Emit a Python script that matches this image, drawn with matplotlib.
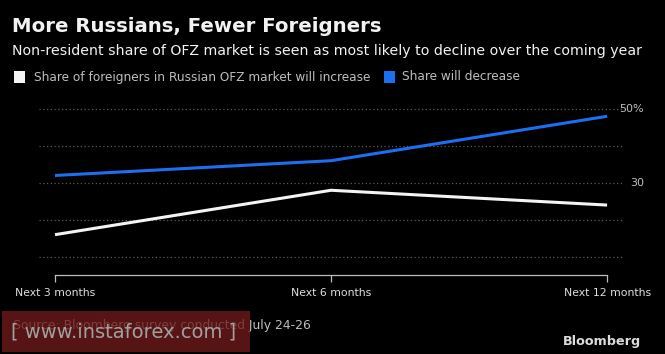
import matplotlib

matplotlib.use("Agg")
import matplotlib.pyplot as plt
import matplotlib.patches as patches
import matplotlib.transforms as mtransforms

# ---- data ----
periods = ["Next 3 months", "Next 6 months", "Next 12 months"]
increase = [16, 28, 24]
decrease = [32, 36, 48]
series_names = ["Share of foreigners in Russian OFZ market will increase",
                "Share will decrease"]
y_ticks = [10, 20, 30, 40, 50]
y_labels = ["", "", "30", "", "50%"]

# ---- style ----
W_PX, H_PX = 665, 354
DPI = 100
BG = "#000000"
FG = "#f2f2f2"
MUTED = "#bdbdbd"
GRID = "#5a5a5a"
BLUE = "#1d6ff2"
WHITE = "#f4f4f4"

fig = plt.figure(figsize=(W_PX / DPI, H_PX / DPI), dpi=DPI, facecolor=BG)

# axes box in pixel coords: x 39..622, y(top) 100..275
ax = fig.add_axes([39 / W_PX, (H_PX - 275) / H_PX, 583 / W_PX, 175 / H_PX])
ax.set_facecolor(BG)
x = list(range(len(periods)))
ax.plot(x, increase, color=WHITE, lw=2.2, solid_capstyle="butt", zorder=3)
ax.plot(x, decrease, color=BLUE, lw=2.2, solid_capstyle="butt", zorder=3)

ax.set_xlim(-0.058, 2.054)
ax.set_ylim(5.1, 52.4)

for s in ["top", "left", "right"]:
    ax.spines[s].set_visible(False)
ax.spines["bottom"].set_color(MUTED)
ax.spines["bottom"].set_linewidth(0.9)
ax.spines["bottom"].set_bounds(0, 2)

ax.set_xticks(x)
ax.set_xticklabels(periods)
ax.tick_params(axis="x", direction="out", length=5, width=0.9, color=MUTED,
               labelcolor="#dedede", labelsize=7.8, pad=4)

# y grid + right-hand value labels
ax.set_yticks(y_ticks)
ax.set_yticklabels([])
ax.tick_params(axis="y", length=0)
ax.grid(axis="y", color=GRID, lw=0.9, linestyle=(0, (1, 2)))
ax.set_axisbelow(True)
trans = mtransforms.blended_transform_factory(ax.transAxes, ax.transData)
for v, lab in zip(y_ticks, y_labels):
    if lab:
        ax.text(1 + 22 / 583, v, lab, transform=trans, ha="right", va="center",
                fontsize=8, color=MUTED)

# ---- header ----
fig.text(12 / W_PX, 1 - 26 / H_PX, "More Russians, Fewer Foreigners",
         fontsize=14.2, color=FG, fontweight="bold", va="center", ha="left")
fig.text(12 / W_PX, 1 - 51 / H_PX,
         "Non-resident share of OFZ market is seen as most likely to decline over the coming year",
         fontsize=10.15, color=FG, va="center", ha="left")

# legend
leg_y = 1 - 77 / H_PX
fig.patches.append(patches.Rectangle((14 / W_PX, 1 - 83 / H_PX), 11 / W_PX, 12 / H_PX,
                                     transform=fig.transFigure, facecolor=WHITE,
                                     edgecolor="none"))
fig.text(34 / W_PX, leg_y, series_names[0], fontsize=8.7, color=MUTED,
         va="center", ha="left")
fig.patches.append(patches.Rectangle((384 / W_PX, 1 - 83 / H_PX), 11 / W_PX, 12 / H_PX,
                                     transform=fig.transFigure, facecolor=BLUE,
                                     edgecolor="none"))
fig.text(402 / W_PX, leg_y, series_names[1], fontsize=8.7, color=MUTED,
         va="center", ha="left")

# ---- footer ----
fig.text(13 / W_PX, 1 - 325 / H_PX, "Source: Bloomberg survey conducted July 24-26",
         fontsize=8.9, color=MUTED, va="center", ha="left")
fig.text(641 / W_PX, 1 - 341 / H_PX, "Bloomberg", fontsize=9.2, color="#dcdcdc",
         fontweight="bold", va="center", ha="right")

# watermark
fig.patches.append(patches.Rectangle((2 / W_PX, 1 - 352 / H_PX), 248 / W_PX, 41 / H_PX,
                                     transform=fig.transFigure, facecolor="#701a1c",
                                     edgecolor="none", alpha=0.78, zorder=5))
fig.text(124 / W_PX, 1 - 332 / H_PX, "[ www.instaforex.com ]", fontsize=14,
         color="#a0a0a0", va="center", ha="center", zorder=6)

fig.savefig("out.png", dpi=DPI, facecolor=BG)
